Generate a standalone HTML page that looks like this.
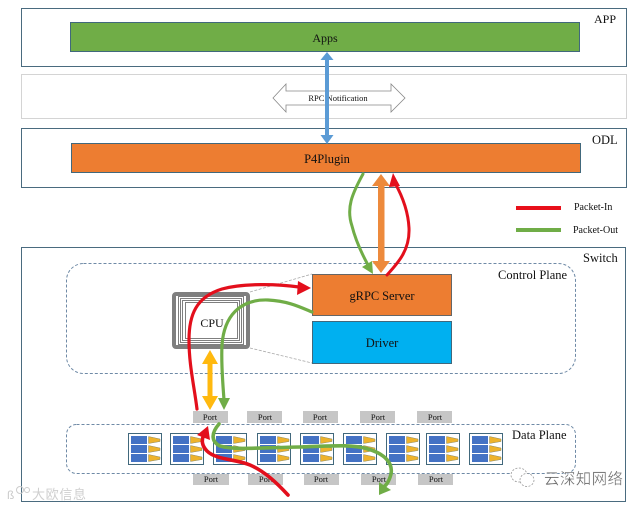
<!DOCTYPE html>
<html><head><meta charset="utf-8"><style>
html,body{margin:0;padding:0;background:#fff;width:643px;height:508px;overflow:hidden}
svg{display:block}
text{font-family:"Liberation Serif","Noto Serif CJK SC",serif;fill:#111}
</style></head><body>
<svg width="643" height="508" viewBox="0 0 643 508" xmlns="http://www.w3.org/2000/svg">
<defs>
<g id="m">
<rect x="0.5" y="0.5" width="33" height="31" fill="#fff" stroke="#41687c" stroke-width="1"/>
<rect x="3" y="3" width="16" height="8" fill="#4472c4"/>
<rect x="3" y="12" width="16" height="8" fill="#4472c4"/>
<rect x="3" y="21" width="16" height="8" fill="#4472c4"/>
<path d="M20.500 3.500L32 6L32 8.500L20.500 10.500Z M20.500 12.500L32 15L32 17.500L20.500 19.500Z M20.500 21.500L32 24L32 26.500L20.500 28.500Z" fill="#eeb32c" stroke="#8a8a6a" stroke-width=".5"/>
</g>
</defs>

<rect x="21.500" y="8.500" width="605" height="58" fill="#fff" stroke="#4a6b7f"/>
<rect x="70.500" y="22.500" width="509" height="29" fill="#70ad47" stroke="#41687c"/>
<rect x="21.500" y="74.500" width="605" height="44" fill="#fff" stroke="#d4d4d4"/>
<rect x="21.500" y="128.500" width="605" height="59" fill="#fff" stroke="#4a6b7f"/>
<rect x="71.500" y="143.500" width="509" height="29" fill="#ed7d31" stroke="#41687c"/>
<rect x="21.500" y="247.500" width="604" height="254" fill="#fff" stroke="#4a6b7f"/>

<path d="M273 98L286 84V91H391V84L405 98L391 112V105H286V112Z" fill="#fff" stroke="#888" stroke-width=".8"/>

<rect x="66.500" y="263.500" width="509" height="110" rx="17" fill="none" stroke="#6f8aa6" stroke-dasharray="3 2"/>
<rect x="66.500" y="424.500" width="509" height="49" rx="10" fill="none" stroke="#6f8aa6" stroke-dasharray="3 2"/>

<path d="M250 292L312 274M250 348L312 363" stroke="#aaa" stroke-width=".8" stroke-dasharray="3 1.500" fill="none"/>
<rect x="312.500" y="274.500" width="139" height="41" fill="#ed7d31" stroke="#666"/>
<rect x="312.500" y="321.500" width="139" height="42" fill="#00b0f0" stroke="#41687c"/>

<rect x="174" y="294" width="74" height="53" rx="2" fill="#fff" stroke="#7f7f7f" stroke-width="4"/>
<g fill="none" stroke="#7f7f7f" stroke-width="1">
<rect x="178.500" y="296.500" width="65" height="48"/>
<rect x="180.500" y="298.500" width="61" height="44"/>
<rect x="182.500" y="300.500" width="57" height="40"/>
<rect x="185.500" y="302.500" width="52" height="36"/>
</g>

<g fill="#c6c6c6">
<rect x="193" y="411" width="35" height="12"/><rect x="247" y="411" width="35" height="12"/><rect x="303" y="411" width="35" height="12"/><rect x="360" y="411" width="35" height="12"/><rect x="417" y="411" width="35" height="12"/>
<rect x="193" y="474" width="36" height="11"/><rect x="248" y="474" width="35" height="11"/><rect x="304" y="474" width="35" height="11"/><rect x="361" y="474" width="35" height="11"/><rect x="418" y="474" width="35" height="11"/>
</g>

<use href="#m" x="128" y="433"/><use href="#m" x="170" y="433"/><use href="#m" x="213" y="433"/><use href="#m" x="257" y="433"/><use href="#m" x="300" y="433"/><use href="#m" x="343" y="433"/><use href="#m" x="386" y="433"/><use href="#m" x="426" y="433"/><use href="#m" x="469" y="433"/>

<g text-anchor="middle">
<text x="325" y="42" font-size="12">Apps</text>
<text x="327" y="163" font-size="12.500">P4Plugin</text>
<text x="382" y="300" font-size="12.500" textLength="65">gRPC Server</text>
<text x="382" y="347" font-size="12.500">Driver</text>
<text x="212" y="327" font-size="12">CPU</text>
<text x="338" y="101" font-size="8.500">RPC Notification</text>
<g font-size="8.500">
<text x="210" y="420">Port</text><text x="265" y="420">Port</text><text x="320" y="420">Port</text><text x="378" y="420">Port</text><text x="435" y="420">Port</text>
<text x="211" y="482">Port</text><text x="266" y="482">Port</text><text x="321" y="482">Port</text><text x="379" y="482">Port</text><text x="436" y="482">Port</text>
</g>
</g>
<text x="594" y="23" font-size="12">APP</text>
<text x="592" y="144" font-size="12.500">ODL</text>
<text x="583" y="262" font-size="12.500">Switch</text>
<text x="498" y="279" font-size="12.500">Control Plane</text>
<text x="512" y="439" font-size="12.500">Data Plane</text>
<text x="574" y="210" font-size="10">Packet-In</text>
<text x="573" y="233" font-size="10">Packet-Out</text>

<rect x="516" y="206" width="45" height="4" fill="#e8101a"/>
<rect x="516" y="228" width="45" height="4" fill="#70ad47"/>

<!-- blue double arrow -->
<path d="M325 60H329V135H333.500L327 144L320.500 135H325Z M327 52L333.500 60H320.500Z" fill="#5b9bd5"/>
<!-- orange double arrow -->
<path d="M378 186H384.500V261H390L381 273L372 261H378Z M381 174L390 186H372Z" fill="#ed8a3c"/>
<!-- yellow double arrow -->
<path d="M207.500 364H212.500V396H218L210 410L202 396H207.500Z M210 350L218 364H202Z" fill="#ffb90f"/>

<g fill="none" stroke-linecap="round">
<path d="M363 174C352 194 346 208 352 226C356 242 362 254 368 265" stroke="#70ad47" stroke-width="3"/>
<path d="M387 275C398 263 410 250 409 228C408 208 400 192 395 183" stroke="#e30f1c" stroke-width="3"/>
<path d="M197 409C194 385 189 365 189 340C189 315 196 297 222 289C244 283 278 284 299 287" stroke="#e30f1c" stroke-width="3.200"/>
<path d="M312 312C300 307 288 301 268 300C240 299 224 316 222 345C221 365 223 385 224 400" stroke="#70ad47" stroke-width="3.200"/>
<path d="M219 424C212 432 210 441 220 446C235 450 250 448 300 447C330 446 352 444 368 449C385 454 393 463 391 474C389 482 386 485 384 487" stroke="#70ad47" stroke-width="3.600"/>
<path d="M288 495C276 482 264 471 250 465C236 459 216 460 207 451C202 446 201 440 204 435" stroke="#e30f1c" stroke-width="3.600"/>
</g>
<path d="M373 274L362 267L372 261Z" fill="#70ad47"/>
<path d="M393 173L400 186L389 187Z" fill="#e30f1c"/>
<path d="M311 288L298 281L297 295Z" fill="#e30f1c"/>
<path d="M224 410L218 398H230Z" fill="#70ad47"/>
<path d="M208 426L210 440L197 435Z" fill="#e30f1c"/>
<path d="M379 495L379 482L391 490Z" fill="#70ad47"/>

<!-- watermarks -->
<g fill="#fff" stroke="#999" stroke-width=".8" stroke-dasharray="2 1.500">
<ellipse cx="519" cy="475" rx="8" ry="7"/>
<ellipse cx="527" cy="480" rx="7" ry="6.500"/>
</g>
<text x="544" y="484" font-size="15.500" style="fill:#666;font-family:'Noto Sans CJK SC',sans-serif" textLength="79" stroke="#fff" stroke-width=".3">云深知网络</text>
<text x="7" y="499" font-size="12" style="fill:#ccc;font-family:'Liberation Sans',sans-serif">ß</text>
<circle cx="20" cy="490" r="3.500" fill="none" stroke="#ccc"/><circle cx="27" cy="490" r="2.500" fill="none" stroke="#ccc"/>
<text x="32" y="499" font-size="13" style="fill:#cfcfcf;font-family:'Noto Sans CJK SC',sans-serif" textLength="54">大欧信息</text>
</svg>
</body></html>
